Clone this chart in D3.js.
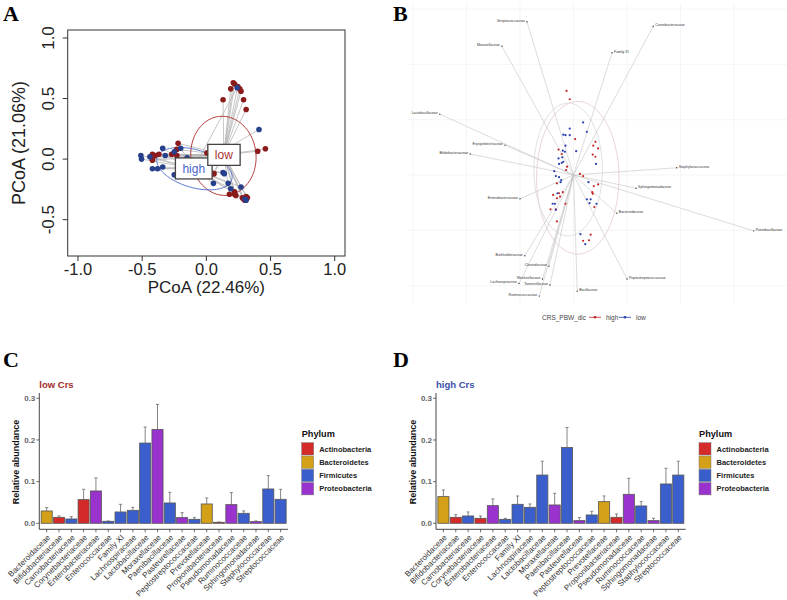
<!DOCTYPE html>
<html><head><meta charset="utf-8">
<script src="https://cdn.jsdelivr.net/npm/d3@7"></script>
<style>body{margin:0;background:#fff} svg{display:block}</style>
</head><body>
<svg id="c" width="787" height="600"></svg>
<script>
// ---------------- DATA ----------------
// Panel A: PCoA sample scores
const pcoaLow = [[0.21,0.63],[0.22,0.62],[0.19,0.58],[0.245,0.60],[0.26,0.58],[0.27,0.56],[0.13,0.49],[0.29,0.49],[0.31,0.41],
  [0.46,0.085],[0.40,0.065],[-0.22,0.13],[-0.23,0.08],[-0.27,0.04],[-0.23,0.03],[-0.42,0.04],[-0.40,0.03],[-0.43,0.02],
  [-0.37,0.04],[-0.42,0.005],[-0.42,-0.01],[0.004,0.05],[0.05,-0.12],[0.06,-0.12],[0.18,-0.29],[0.22,-0.27],[0.22,-0.29],
  [0.23,-0.30],[0.28,-0.32],[0.29,-0.33],[0.31,-0.31],[0.32,-0.32],[0.30,-0.34]];
const pcoaHigh = [[0.24,0.59],[0.41,0.245],[-0.34,0.09],[-0.20,0.09],[-0.25,0.06],[-0.51,0.03],[-0.505,0.0],[-0.44,0.02],
  [-0.32,0.03],[-0.15,0.01],[-0.34,-0.065],[-0.42,-0.08],[-0.38,-0.08],[-0.25,-0.13],[0.13,-0.11],[0.14,-0.12],
  [0.055,-0.20],[0.17,-0.20],[0.19,-0.245],[0.27,-0.23],[0.30,-0.33],[0.31,-0.34]];
const centroidLow = [0.136, 0.035];
const centroidHigh = [-0.098, -0.077];
const ellipseLow = {cx:0.133, cy:0.027, rx:0.254, ry:0.327, angle:4.5};
const ellipseHigh = {cx:-0.093, cy:-0.079, rx:0.305, ry:0.155, angle:-18};
const aXTicks = [-1.0,-0.5,0.0,0.5,1.0];
const aYTicks = [-0.5,0.0,0.5,1.0];

// Panel B: biplot
const taxaNames = ["Streptococcaceae","Moraxellaceae","Carnobacteriaceae","Family XI","Lactobacillaceae","Erysipelotrichaceae",
  "Bifidobacteriaceae","Staphylococcaceae","Sphingomonadaceae","Enterobacteriaceae","Bacteroidaceae","Paenibacillaceae",
  "Burkholderiaceae","Clostridiaceae","Lachnospiraceae","Weeksellaceae","Tannerellaceae","Ruminococcaceae","Bacillaceae",
  "Peptostreptococcaceae"];
const taxaX = [-0.087,-0.134,0.149,0.072,-0.250,-0.128,-0.193,0.193,0.117,-0.100,0.081,0.337,-0.091,-0.046,-0.102,-0.058,-0.044,-0.064,0.007,0.100];
const taxaY = [0.277,0.233,0.269,0.221,0.110,0.054,0.038,0.013,-0.024,-0.043,-0.069,-0.101,-0.146,-0.165,-0.196,-0.188,-0.199,-0.219,-0.210,-0.188];
const bHigh = [[-0.013,0.152],[-0.007,0.137],[0.003,0.065],[0.041,0.060],[0.037,0.053],[0.046,0.048],[-0.028,0.046],[-0.022,0.038],
  [0.036,0.037],[0.041,0.033],[-0.012,0.015],[-0.014,0.009],[0.012,0.002],[0.018,-0.002],[-0.031,-0.015],[0.046,-0.017],
  [0.038,-0.020],[-0.020,-0.031],[-0.027,-0.033],[-0.038,-0.036],[-0.031,-0.042],[-0.025,-0.039],[0.035,-0.031],[0.036,-0.034],
  [-0.015,-0.052],[-0.043,-0.062],[-0.033,-0.062],[0.039,-0.058],[-0.031,-0.084],[0.032,-0.108],[0.018,-0.119],[0.029,-0.118]];
const bLow = [[0.018,0.095],[-0.007,0.084],[0.025,0.078],[-0.019,0.073],[-0.015,0.072],[-0.007,0.072],[-0.015,0.053],[-0.020,0.044],
  [-0.016,0.042],[0.005,0.043],[-0.028,0.030],[-0.021,0.032],[-0.019,0.024],[-0.022,0.022],[-0.027,0.020],[0.042,0.020],
  [-0.036,0.007],[-0.033,-0.002],[-0.027,-0.004],[-0.023,-0.009],[-0.024,-0.013],[0.028,-0.013],[-0.030,-0.033],[0.025,-0.044],
  [0.032,-0.044],[-0.039,-0.052],[-0.035,-0.052],[0.030,-0.051],[0.043,-0.052],[-0.033,-0.063],[0.013,-0.107],[0.022,-0.125]];
const bEllipseHigh = {cx:0.008, cy:-0.005, rx:0.077, ry:0.138, angle:0};
const bEllipseLow = {cx:-0.010, cy:0.010, rx:0.064, ry:0.120, angle:0};
const bGridX = [-0.3,-0.2,-0.1,0,0.1,0.2,0.3];
const bGridY = [-0.2,-0.1,0,0.1,0.2,0.3];

// Panels C & D: relative abundance
const families = ["Bacteroidaceae","Bifidobacteriaceae","Carnobacteriaceae","Corynebacteriaceae","Enterobacteriaceae",
  "Enterococcaceae","Family XI","Lachnospiraceae","Lactobacillaceae","Moraxellaceae","Paenibacillaceae","Pasteurellaceae",
  "Peptostreptococcaceae","Prevotellaceae","Propionibacteriaceae","Pseudomonadaceae","Ruminococcaceae","Sphingomonadaceae",
  "Staphylococcaceae","Streptococcaceae"];
const familyPhylum = ["Bacteroidetes","Actinobacteria","Firmicutes","Actinobacteria","Proteobacteria","Firmicutes","Firmicutes",
  "Firmicutes","Firmicutes","Proteobacteria","Firmicutes","Proteobacteria","Firmicutes","Bacteroidetes","Actinobacteria",
  "Proteobacteria","Firmicutes","Proteobacteria","Firmicutes","Firmicutes"];
const lowMean = [0.0296,0.0144,0.0104,0.0568,0.0776,0.0048,0.0272,0.0312,0.1926,0.2254,0.0488,0.0136,0.0096,0.0464,0.0024,0.0448,0.024,0.004,0.0824,0.0576];
const lowSE   = [0.008,0.0032,0.0056,0.0248,0.0314,0.0008,0.0184,0.0072,0.0384,0.0599,0.0256,0.012,0.004,0.0144,0.0008,0.0288,0.0056,0.0016,0.032,0.024];
const highMean = [0.064,0.0144,0.0176,0.012,0.0424,0.0096,0.0456,0.0384,0.1158,0.044,0.182,0.0064,0.02,0.052,0.0144,0.0696,0.0416,0.0064,0.0944,0.1158];
const highSE   = [0.016,0.0064,0.0096,0.0056,0.016,0.0024,0.02,0.008,0.0332,0.028,0.048,0.0072,0.0088,0.0136,0.008,0.0384,0.0104,0.0056,0.0376,0.0332];
const phyla = ["Actinobacteria","Bacteroidetes","Firmicutes","Proteobacteria"];
const phylumColors = ["#d42a2a","#d4a017","#3a5fcd","#9a32cd"];
const barYTicks = [0.0,0.1,0.2,0.3];

// ---------------- DRAW ----------------
const svg = d3.select("#c");
const sans = "'Liberation Sans', Arial, sans-serif";
const serif = "'Liberation Serif', 'Times New Roman', serif";

function ellipsePath(e, sx, sy) {
  const th = e.angle * Math.PI / 180, pts = [];
  for (let i = 0; i <= 120; i++) {
    const t = 2 * Math.PI * i / 120;
    const x = e.cx + e.rx * Math.cos(t) * Math.cos(th) - e.ry * Math.sin(t) * Math.sin(th);
    const y = e.cy + e.rx * Math.cos(t) * Math.sin(th) + e.ry * Math.sin(t) * Math.cos(th);
    pts.push([sx(x), sy(y)]);
  }
  return d3.line()(pts);
}

// panel letters
[["A",3,21],["B",393,21],["C",3,367],["D",393,367]].forEach(([t,x,y]) =>
  svg.append("text").attr("x",x).attr("y",y).text(t).attr("font-family",serif).attr("font-weight","bold").attr("font-size",22));

// ===== Panel A =====
const AX0 = -1.08, AX1 = 1.08, AY0 = -0.80, AY1 = 1.066;
const ax = d3.scaleLinear().domain([AX0,AX1]).range([67.7,345]);
const ay = d3.scaleLinear().domain([AY0,AY1]).range([256,30]);
const gA = svg.append("g");
gA.append("rect").attr("x",ax(AX0)).attr("y",ay(AY1)).attr("width",ax(AX1)-ax(AX0)).attr("height",ay(AY0)-ay(AY1))
  .attr("fill","none").attr("stroke","#333").attr("stroke-width",1);
aXTicks.forEach(v => {
  gA.append("line").attr("x1",ax(v)).attr("x2",ax(v)).attr("y1",ay(AY0)).attr("y2",ay(AY0)+5).attr("stroke","#333");
  gA.append("text").attr("x",ax(v)).attr("y",ay(AY0)+19).attr("text-anchor","middle").attr("font-family",sans)
    .attr("font-size",16.5).attr("fill","#222").text(v.toFixed(1));
});
aYTicks.forEach(v => {
  gA.append("line").attr("x1",ax(AX0)-5).attr("x2",ax(AX0)).attr("y1",ay(v)).attr("y2",ay(v)).attr("stroke","#333");
  const lx = ax(AX0) - 14;
  gA.append("text").attr("x",lx).attr("y",ay(v)).attr("text-anchor","middle").attr("transform",`rotate(-90,${lx},${ay(v)})`)
    .attr("font-family",sans).attr("font-size",17).attr("fill","#222").text(v.toFixed(1));
});
gA.append("text").attr("x",(ax(AX0)+ax(AX1))/2).attr("y",ay(AY0)+37).attr("text-anchor","middle").attr("font-family",sans)
  .attr("font-size",17).attr("fill","#222").text("PCoA (22.46%)");
gA.append("text").attr("x",25).attr("y",(ay(AY1)+ay(AY0))/2).attr("text-anchor","middle")
  .attr("transform",`rotate(-90,25,${(ay(AY1)+ay(AY0))/2})`).attr("font-family",sans).attr("font-size",18).attr("fill","#222").text("PCoA (21.06%)");
// spiders
const spid = gA.append("g").attr("stroke","#b8b8b8").attr("stroke-width",0.8);
pcoaLow.forEach(p => spid.append("line").attr("x1",ax(p[0])).attr("y1",ay(p[1])).attr("x2",ax(centroidLow[0])).attr("y2",ay(centroidLow[1])));
pcoaHigh.forEach(p => spid.append("line").attr("x1",ax(p[0])).attr("y1",ay(p[1])).attr("x2",ax(centroidHigh[0])).attr("y2",ay(centroidHigh[1])));
// ellipses
gA.append("path").attr("d",ellipsePath(ellipseLow,ax,ay)).attr("fill","none").attr("stroke","#b53a3a").attr("stroke-width",1);
gA.append("path").attr("d",ellipsePath(ellipseHigh,ax,ay)).attr("fill","none").attr("stroke","#5a78d0").attr("stroke-width",1);
// points
gA.selectAll(".pl").data(pcoaLow).join("circle").attr("cx",d=>ax(d[0])).attr("cy",d=>ay(d[1])).attr("r",2.8).attr("fill","#8b1a1a");
gA.selectAll(".ph").data(pcoaHigh).join("circle").attr("cx",d=>ax(d[0])).attr("cy",d=>ay(d[1])).attr("r",2.8).attr("fill","#27408b");
// labels
function boxLabel(c, txt, col) {
  const cx = ax(c[0]), cy = ay(c[1]);
  const r = gA.append("rect").attr("fill","#fff").attr("stroke","#444").attr("stroke-width",1.3);
  const t = gA.append("text").attr("x",cx).attr("y",cy).attr("dy","0.35em").attr("text-anchor","middle")
    .attr("font-family",sans).attr("font-size",12).attr("fill",col).text(txt);
  const bb = t.node().getBBox();
  r.attr("x",bb.x-7).attr("y",cy-10.5).attr("width",bb.width+14).attr("height",21);
}
boxLabel(centroidHigh,"high","#4a65c8");
boxLabel(centroidLow,"low","#a83232");

// ===== Panel B =====
const bx = d3.scaleLinear().domain([-0.3,0.3]).range([413,734]);
const by = d3.scaleLinear().domain([-0.2,0.3]).range([285.6,9.1]);
const gB = svg.append("g");
const grid = gB.append("g").attr("stroke","#efefef").attr("stroke-width",0.6);
bGridX.forEach(v => grid.append("line").attr("x1",bx(v)).attr("x2",bx(v)).attr("y1",3).attr("y2",305));
bGridY.forEach(v => grid.append("line").attr("x1",408).attr("x2",787).attr("y1",by(v)).attr("y2",by(v)));
gB.append("path").attr("d",ellipsePath(bEllipseHigh,bx,by)).attr("fill","none").attr("stroke","#e6c9c9").attr("stroke-width",0.8);
gB.append("path").attr("d",ellipsePath(bEllipseLow,bx,by)).attr("fill","none").attr("stroke","#d8d8de").attr("stroke-width",0.8);
const arr = gB.append("g").attr("stroke","#c4c4c4").attr("stroke-width",0.6);
taxaNames.forEach((n,i) => arr.append("line").attr("x1",bx(0)).attr("y1",by(0)).attr("x2",bx(taxaX[i])).attr("y2",by(taxaY[i])));
taxaNames.forEach((n,i) => {
  gB.append("circle").attr("cx",bx(taxaX[i])).attr("cy",by(taxaY[i])).attr("r",0.7).attr("fill","#333");
  const left = taxaX[i] < 0;
  gB.append("text").attr("x",bx(taxaX[i]) + (left?-2:2)).attr("y",by(taxaY[i])-0.5).attr("dy","0.1em")
    .attr("text-anchor",left?"end":"start").attr("font-family",sans).attr("font-size",3.5).attr("fill","#333").text(n);
});
gB.selectAll(".bh").data(bHigh).join("circle").attr("cx",d=>bx(d[0])).attr("cy",d=>by(d[1])).attr("r",1.1).attr("fill","#c62828");
gB.selectAll(".bl").data(bLow).join("circle").attr("cx",d=>bx(d[0])).attr("cy",d=>by(d[1])).attr("r",1.1).attr("fill","#2a3fb0");
// legend B
const lgB = gB.append("g").attr("font-family",sans).attr("font-size",6.5).attr("fill","#444");
lgB.append("text").attr("x",542).attr("y",319.5).text("CRS_PBW_dic");
[["high","#c62828",589],["low","#2a3fb0",619]].forEach(([t,c,x]) => {
  lgB.append("line").attr("x1",x).attr("x2",x+12).attr("y1",317.3).attr("y2",317.3).attr("stroke",c).attr("stroke-width",0.8);
  lgB.append("circle").attr("cx",x+6).attr("cy",317.3).attr("r",1.3).attr("fill",c);
  lgB.append("text").attr("x",x+17).attr("y",319.5).text(t);
});

// ===== Panels C & D =====
function barPanel(x0, w, means, ses, title, titleCol, legX) {
  const g = svg.append("g");
  const x = d3.scaleBand().domain(families).range([x0, x0 + w]).paddingInner(0.1).paddingOuter(0.15);
  const y = d3.scaleLinear().domain([-0.0144,0.3127]).range([529.3,393]);
  const bw = x.bandwidth();
  const colOf = d3.scaleOrdinal().domain(phyla).range(phylumColors);
  families.forEach((f,i) => {
    const cx = x(f) + bw/2, top = y(means[i]), et = y(means[i] + ses[i]);
    g.append("line").attr("x1",cx).attr("x2",cx).attr("y1",top).attr("y2",et).attr("stroke","#777").attr("stroke-width",0.9);
    g.append("line").attr("x1",cx-1.5).attr("x2",cx+1.5).attr("y1",et).attr("y2",et).attr("stroke","#777").attr("stroke-width",0.9);
    g.append("rect").attr("x",x(f)).attr("y",top).attr("width",bw).attr("height",y(0)-top)
      .attr("fill",colOf(familyPhylum[i])).attr("stroke","#555").attr("stroke-width",0.8);
    g.append("line").attr("x1",cx).attr("x2",cx).attr("y1",529.3).attr("y2",532.3).attr("stroke","#333").attr("stroke-width",0.7);
    g.append("text").attr("transform",`translate(${cx+2},${536}) rotate(-45)`).attr("text-anchor","end").attr("dy","0.35em")
      .attr("font-family",sans).attr("font-size",8).attr("fill","#333").text(f);
  });
  g.append("line").attr("x1",x0).attr("x2",x0).attr("y1",393).attr("y2",529.3).attr("stroke","#333").attr("stroke-width",0.9);
  g.append("line").attr("x1",x0).attr("x2",x0+w).attr("y1",529.3).attr("y2",529.3).attr("stroke","#333").attr("stroke-width",0.9);
  barYTicks.forEach(v => {
    g.append("line").attr("x1",x0-3).attr("x2",x0).attr("y1",y(v)).attr("y2",y(v)).attr("stroke","#333").attr("stroke-width",0.7);
    g.append("text").attr("x",x0-4).attr("y",y(v)).attr("dy","0.35em").attr("text-anchor","end").attr("font-family",sans)
      .attr("font-weight","bold").attr("font-size",8).attr("fill","#666").text(v.toFixed(1));
  });
  g.append("text").attr("x",x0-20).attr("y",462).attr("text-anchor","middle").attr("transform",`rotate(-90,${x0-20},462)`)
    .attr("font-family",sans).attr("font-weight","bold").attr("font-size",9).attr("fill","#111").text("Relative abundance");
  g.append("text").attr("x",x0).attr("y",388).attr("font-family",sans).attr("font-weight","bold").attr("font-size",9.5)
    .attr("fill",titleCol).text(title);
  // legend
  g.append("text").attr("x",legX).attr("y",437).attr("font-family",sans).attr("font-weight","bold").attr("font-size",9.2)
    .attr("fill","#111").text("Phylum");
  phyla.forEach((p,i) => {
    const yy = 442.7 + i*13.3;
    g.append("rect").attr("x",legX).attr("y",yy).attr("width",12).attr("height",12.3).attr("fill",phylumColors[i])
      .attr("stroke","#777").attr("stroke-width",0.5);
    g.append("text").attr("x",legX+17.5).attr("y",yy+6.2).attr("dy","0.35em").attr("font-family",sans).attr("font-weight","bold")
      .attr("font-size",7.5).attr("fill","#222").text(p);
  });
}
barPanel(39.3, 248.7, lowMean, lowSE, "low Crs", "#a52a2a", 301.7);
barPanel(436, 249.7, highMean, highSE, "high Crs", "#3a4fa8", 699);
</script>
</body></html>
